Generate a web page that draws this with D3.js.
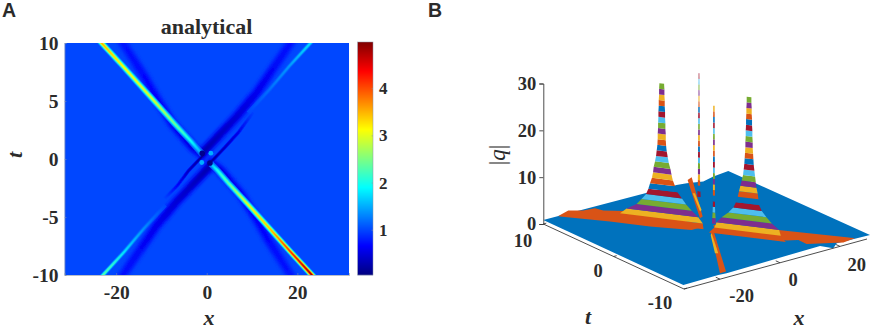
<!DOCTYPE html>
<html><head><meta charset="utf-8">
<script src="https://cdn.jsdelivr.net/npm/d3@7"></script>
<style>
html,body{margin:0;padding:0;background:#fff}
svg{display:block}
text{font-family:"Liberation Serif",serif;fill:#2b2b2b}
</style></head><body>
<svg id="c" width="872" height="329"></svg>
<script>
// ---- Panel A data ----
const xTicksA=[-20,0,20], tTicksA=[-10,-5,0,5,10], cbTicks=[1,2,3,4];
const valueRange=[0.04,4.98];
const jetFractions=[0,0.125,0.375,0.625,0.875,1];
const jetColors=["#000080","#0000ff","#00ffff","#ffff00","#ff0000","#800000"];
const backgroundValue=1;
// ridges: [x, t, peak |q|]
const ridgeNW=[[-1.4,0.6,1.5],[-3.4,1.5,1.9],[-7,3,2.4],[-11.6,5,2.9],[-18.5,8,3.1],[-23.2,10,3.5]];
const ridgeSE=[[1.4,-0.6,1.7],[2.4,-1,2.0],[4.6,-2,2.3],[9.3,-4,3.0],[13.9,-6,3.4],[18.5,-8,4.1],[23.2,-10,4.8]];
const ridgeNE=[[9.5,4.1,1.02],[11.6,5,1.1],[13.9,6,1.2],[18.2,8,1.4],[22.9,10,1.75]];
const ridgeSW=[[-9.5,-4.1,1.03],[-11.6,-5,1.15],[-13.9,-6,1.35],[-18.2,-8,1.75],[-22.9,-10,2.3]];
// troughs: [x, t, lowest |q|]
const wideNW=[[-1,0.4,0.42],[-3,1,0.5],[-7.5,3,0.58],[-10.7,5,0.64],[-13.6,7,0.68],[-18.5,10,0.75]];
const wideSE=[[1,-0.4,0.42],[3,-1,0.5],[7.5,-3,0.58],[10.7,-5,0.64],[13.6,-7,0.68],[18.5,-10,0.75]];
const wideNE=[[-1,0.5,0.25],[6.6,3.65,0.44],[11,5.7,0.56],[18.5,10,0.72]];
const wideSW=[[1,-0.5,0.25],[-6.6,-3.65,0.44],[-11,-5.7,0.56],[-18.5,-10,0.72]];
const narrowNE=[[0.7,-0.35,0.15],[4,1,0.35],[7,2.3,0.55],[10,3.9,0.95]];
const narrowSW=[[-0.7,0.35,0.15],[-4,-1,0.35],[-6.5,-2.3,0.65],[-9,-3.3,0.95]];
const lightSpots=[[-1.1,-0.3,1.5],[0.9,0.5,1.5]];
const darkSpots=[[-1,0.5,0.1],[0.7,-0.35,0.1]];

// ---- Panel B data ----
const xTicksB=[-20,0,20], tTicksB=[-10,0,10], zTicksB=[0,10,20,30];
const bandColors=["#0072BD","#D95319","#EDB120","#7E2F8E","#77AC30","#4DBEEE","#A2142F"];
const levelStep=1.2;
const surfaceEdge=[[-32.3,9.88],[11.5,9.61],[14.4,9.4],[18.6,8.84],[23,9.28],[28.7,9.59],[29.35,-10.28],[18.6,-10.13],[15.6,-10.92],[13.9,-9.76],[-18.05,-10.11],[-20.55,-9.99],[-32.4,-10.08]];
const armLeft=[[-27.3,9.87],[-22.8,10.37],[-19.65,9.58],[-16.16,9.41],[-15.47,8.52],[-11.09,7.31],[-4.17,4.33],[-1.78,0.14],[-5.73,0.11],[-12.95,2.96],[-19.06,6.04],[-27.26,9.65]];
const armRight=[[1.07,-0.06],[12.42,-4.46],[23.41,-9.49],[24.7,-10.12],[20.29,-10.35],[12,-8.67],[12.08,-7.45],[9.32,-6.96],[2.24,-2.41],[-0.55,-0.99]];
const backRidge=[[16.1,10],[18.15,10.29],[2.62,2.11],[1.3,1.93]];
const backStrip=[[11.58,7.03],[5.43,3.46],[4.32,3.21],[11.1,7.15]];
const frontRidge=[[-2.5,-1.21],[-1.2,-1.03],[-17.43,-9.76],[-19.45,-9.76]];
const frontStrip=[[-3.05,-1.59],[-10.73,-5.8],[-11.43,-5.63],[-4.02,-1.86]];
const peakLeftAt=[-7.2,3.74];
const peakLeftL=[6.7,6.4,5.4,3.85,3.1,2.4,2.05,1.8,1.5,1.33,1.23,1.03,.87,.77,.67,.62,.62,.56,.56,.51,.51,.46,.46,.41,.41,.36];
const peakLeftR=[6.4,6.3,5.6,4.6,3.75,3.1,2.4,2.05,1.7,1.5,1.33,1.08,.92,.77,.67,.62,.62,.56,.56,.51,.51,.46,.46,.41,.41,.36];
const peakRightAt=[4.97,-3.48];
const peakRightL=[6.15,5.33,4.97,4.2,3.18,2.41,2,1.74,1.54,1.33,1.13,.92,.82,.72,.67,.62,.56,.56,.51,.51,.46,.46,.41,.41,.36,.36];
const peakRightR=[5.64,4.87,4.62,3.49,2.67,1.95,1.54,1.44,1.33,1.13,1.03,.92,.82,.72,.67,.62,.56,.56,.51,.51,.46,.46,.41,.41,.36,.36];
const spikeBackAt=[0.15,1.58], spikeBackFrom=5;
const spikeBackHalf=[.26,.22,.19,.17,.16,.16,.15,.15,.14,.14,.13,.13,.12,.12,.12,.11,.11,.1,.1,.09,.09,.08,.07];
const spikeFrontAt=[-1.25,-1.14], spikeFrontFrom=2;
const spikeFrontHalf=[.3,.26,.2,.17,.16,.16,.15,.15,.15,.14,.14,.14,.13,.13,.13,.13,.12,.12,.12,.12,.11,.11];

const svg=d3.select("#c");
const defs=svg.append("defs");
function blur(id,s){defs.append("filter").attr("id",id)
  .attr("filterUnits","userSpaceOnUse").attr("x",0).attr("y",0).attr("width",872).attr("height",329)
  .append("feGaussianBlur").attr("stdDeviation",s);}
blur("b1",0.75);blur("b2",1.5);blur("b3",0.4);

// ---------- Panel A ----------
const xA=d3.scaleLinear().domain([-31.4,31.4]).range([64.5,349]);
const tA=d3.scaleLinear().domain([-10,10]).range([275,43]);
const span=valueRange[1]-valueRange[0];
const jet=d3.scaleLinear().domain(jetFractions.map(f=>valueRange[0]+f*span)).range(jetColors).clamp(true);
defs.append("clipPath").attr("id","plotA").append("rect")
  .attr("x",xA.range()[0]).attr("y",tA.range()[1]).attr("width",xA.range()[1]-xA.range()[0]).attr("height",tA.range()[0]-tA.range()[1]);
const plotA=svg.append("g").attr("clip-path","url(#plotA)");
plotA.append("rect").attr("x",xA.range()[0]).attr("y",tA.range()[1]).attr("width",xA.range()[1]-xA.range()[0]).attr("height",tA.range()[0]-tA.range()[1]).attr("fill",jet(backgroundValue));
const lineA=d3.line().x(d=>xA(d[0])).y(d=>tA(d[1]));
let gid=0;
function arm(parent,pts,layers){
  const x0=xA(pts[0][0]),y0=tA(pts[0][1]),x1=xA(pts[pts.length-1][0]),y1=tA(pts[pts.length-1][1]);
  const len2=(x1-x0)**2+(y1-y0)**2;
  layers.forEach(([f,w])=>{
    const id="g"+(gid++);
    const g=defs.append("linearGradient").attr("id",id).attr("gradientUnits","userSpaceOnUse")
      .attr("x1",x0).attr("y1",y0).attr("x2",x1).attr("y2",y1);
    pts.forEach(p=>{
      const o=((xA(p[0])-x0)*(x1-x0)+(tA(p[1])-y0)*(y1-y0))/len2;
      g.append("stop").attr("offset",o).attr("stop-color",jet(backgroundValue+(p[2]-backgroundValue)*f));
    });
    parent.append("path").attr("d",lineA(pts)).attr("fill","none").attr("stroke","url(#"+id+")")
      .attr("stroke-width",w).attr("stroke-linecap","square");
  });
}
const troughG=plotA.append("g").attr("filter","url(#b2)");
[wideNW,wideSE,wideNE,wideSW].forEach(a=>arm(troughG,a,[[.4,11],[.7,8],[.9,6],[1,4]]));
const narrowG=plotA.append("g").attr("filter","url(#b1)");
[narrowNE,narrowSW].forEach(a=>arm(narrowG,a,[[.6,3.4],[1,1.8]]));
const ridgeG=plotA.append("g").attr("filter","url(#b1)");
[ridgeNW,ridgeSE].forEach(a=>arm(ridgeG,a,[[.15,6.5],[.35,5],[.55,3.8],[.8,2.7],[1,1.5]]));
[ridgeNE,ridgeSW].forEach(a=>arm(ridgeG,a,[[.2,4.5],[.5,3.2],[.8,2.2],[1,1.3]]));
ridgeG.selectAll("circle.l").data(lightSpots).join("circle").attr("cx",d=>xA(d[0])).attr("cy",d=>tA(d[1])).attr("r",2.4).attr("fill",d=>jet(d[2]));
ridgeG.selectAll("circle.d").data(darkSpots).join("circle").attr("cx",d=>xA(d[0])).attr("cy",d=>tA(d[1])).attr("r",2.8).attr("fill",d=>jet(d[2]));

const fmt=d=>String(d);
const axisStyle=(g,size)=>{g.selectAll("text").attr("font-size",size).attr("font-weight","bold");g.select(".domain").attr("stroke","#8a94a6").attr("stroke-width",0.6);g.selectAll(".tick line").attr("stroke","#8a94a6").attr("stroke-width",0.5);};
const axXA=svg.append("g").attr("transform","translate(0,275)").call(d3.axisBottom(xA).tickValues(xTicksA).tickSize(-2).tickPadding(10).tickFormat(fmt));
axisStyle(axXA,19.5);
const axTA=svg.append("g").attr("transform","translate(64.5,0)").call(d3.axisLeft(tA).tickValues(tTicksA).tickSize(-2).tickPadding(6).tickFormat(fmt));
axisStyle(axTA,19.5);
svg.append("text").attr("x",206.5).attr("y",34).attr("text-anchor","middle").attr("font-size",22).attr("font-weight","bold").text("analytical");
svg.append("text").attr("x",209).attr("y",324.5).attr("text-anchor","middle").attr("font-size",22).attr("font-weight","bold").attr("font-style","italic").text("x");
svg.append("text").attr("transform","translate(22,155) rotate(-90)").attr("text-anchor","middle").attr("font-size",22).attr("font-weight","bold").attr("font-style","italic").text("t");
svg.append("text").attr("x",2).attr("y",17).attr("style","font-family:'Liberation Sans',sans-serif").attr("font-size",19.5).attr("font-weight","bold").attr("fill","#1a1a1a").text("A");
svg.append("text").attr("x",428).attr("y",17).attr("style","font-family:'Liberation Sans',sans-serif").attr("font-size",19.5).attr("font-weight","bold").attr("fill","#1a1a1a").text("B");

// colour bar
const cbY=d3.scaleLinear().domain(valueRange).range([275,42]);
const cbX=[357.7,373];
const cbSteps=d3.range(0,233);
svg.append("g").selectAll("rect").data(cbSteps).join("rect")
  .attr("x",cbX[0]).attr("width",cbX[1]-cbX[0]).attr("y",d=>42+d).attr("height",1.2)
  .attr("fill",d=>jet(cbY.invert(42+d+0.5)));
svg.append("rect").attr("x",cbX[0]).attr("y",42).attr("width",cbX[1]-cbX[0]).attr("height",233).attr("fill","none").attr("stroke","#8a94a6").attr("stroke-width",0.5);
const axCb=svg.append("g").attr("transform",`translate(${cbX[1]},0)`).call(d3.axisRight(cbY).tickValues(cbTicks).tickSize(-1.5).tickPadding(6).tickFormat(fmt));
axisStyle(axCb,17);axCb.select(".domain").remove();

// ---------- Panel B ----------
const origin=[684,289];
const xToPx=d3.scaleLinear().domain([-32,29]).range([0,183]);
const xToPy=d3.scaleLinear().domain([-32,29]).range([0,-50]);
const tToPx=d3.scaleLinear().domain([-10,10]).range([0,-140.7]);
const tToPy=d3.scaleLinear().domain([-10,10]).range([0,-65]);
const zToPy=d3.scaleLinear().domain([0,30]).range([0,-140.5]);
const proj=(x,t,z)=>[origin[0]+xToPx(x)+tToPx(t),origin[1]+xToPy(x)+tToPy(t)+zToPy(z)];
const SURF=1, RIDGE_SLOPE=-0.5;
const poly=d3.line();
const floorPoly=(pts)=>poly(pts.map(p=>proj(p[0],p[1],SURF)))+"Z";
const B=svg.append("g").attr("filter","url(#b3)");
B.append("path").attr("d",floorPoly(surfaceEdge)).attr("fill",bandColors[0]);
B.append("path").attr("d",floorPoly(armLeft)).attr("fill",bandColors[1]);
B.append("path").attr("d",floorPoly(armRight)).attr("fill",bandColors[1]);
B.append("path").attr("d",floorPoly(backRidge)).attr("fill",bandColors[1]);
B.append("path").attr("d",floorPoly(backStrip)).attr("fill",bandColors[2]);
const bandColor=k=>bandColors[(k+1)%bandColors.length];
function stack(at,left,right,from,opacityTop){
  const n=left.length-1;
  d3.range(n).forEach(i=>{
    const k=i+from;
    const P=(j,dx,side)=>proj(at[0]+side*dx,at[1]+side*dx*RIDGE_SLOPE,(j+from)*levelStep);
    const pts=[P(i,left[i],-1),P(i+1,left[i+1],-1),P(i+1,right[i+1],1),P(i,right[i],1)];
    B.append("path").attr("d",poly(pts)+"Z").attr("fill",bandColor(k))
      .attr("opacity",opacityTop&&i>n*0.7?0.75:1);
  });
}
stack(spikeBackAt,spikeBackHalf,spikeBackHalf,spikeBackFrom,true);
stack(peakLeftAt,peakLeftL,peakLeftR,0,false);
stack(peakRightAt,peakRightL,peakRightR,0,false);
B.append("path").attr("d",floorPoly(frontRidge)).attr("fill",bandColors[1]);
B.append("path").attr("d",floorPoly(frontStrip)).attr("fill",bandColors[2]);
stack(spikeFrontAt,spikeFrontHalf,spikeFrontHalf,spikeFrontFrom,false);

// 3-D axes
const axisColor="#3a3a3a";
const axB=svg.append("g").attr("fill","none").attr("stroke",axisColor).attr("stroke-width",0.9);
const seg=(a,b)=>axB.append("line").attr("x1",a[0]).attr("y1",a[1]).attr("x2",b[0]).attr("y2",b[1]);
seg(proj(-32,10,0),proj(-32,-10,0));
seg(proj(-32,-10,0),proj(29,-10,0));
xTicksB.forEach(v=>seg(proj(v,-10,0),proj(v,-9.4,0)));
tTicksB.forEach(v=>seg(proj(-32,v,0),proj(-31,v,0)));
const zAxisY=d3.scaleLinear().domain([0,30]).range([proj(-32,10,0)[1],proj(-32,10,30)[1]]);
const axZ=svg.append("g").attr("transform",`translate(${proj(-32,10,0)[0]},0)`)
  .call(d3.axisLeft(zAxisY).tickValues(zTicksB).tickSize(4).tickPadding(3).tickFormat(fmt));
axZ.selectAll("text").attr("font-size",18.5).attr("font-weight","bold");
axZ.select(".domain").attr("stroke",axisColor).attr("stroke-width",0.9);
axZ.selectAll(".tick line").attr("stroke",axisColor).attr("stroke-width",0.9);
const tickFont=(sel)=>sel.attr("font-size",18.5).attr("font-weight","bold").attr("text-anchor","middle").attr("dominant-baseline","middle");
const xLabelX=d3.scaleLinear().domain([-20,0,20]).range([741.7,793,856.7]);
const xLabelY=d3.scaleLinear().domain([-20,0,20]).range([298,282,267]);
const tLabelX=d3.scaleLinear().domain([-10,0,10]).range([660,598,523]);
const tLabelY=d3.scaleLinear().domain([-10,0,10]).range([305,273,243]);
svg.append("g").selectAll("text").data(xTicksB).join("text").call(tickFont)
  .attr("x",d=>xLabelX(d)).attr("y",d=>xLabelY(d)).text(fmt);
svg.append("g").selectAll("text").data(tTicksB).join("text").call(tickFont)
  .attr("x",d=>tLabelX(d)).attr("y",d=>tLabelY(d)).text(fmt);
svg.append("text").attr("x",588).attr("y",324).attr("text-anchor","middle").attr("font-size",22).attr("font-weight","bold").attr("font-style","italic").text("t");
svg.append("text").attr("x",799).attr("y",324.5).attr("text-anchor","middle").attr("font-size",22).attr("font-weight","bold").attr("font-style","italic").text("x");
const qLabel=svg.append("text").attr("transform","translate(505,155) rotate(-90)").attr("text-anchor","middle").attr("font-size",23);
qLabel.append("tspan").text("|");qLabel.append("tspan").attr("font-style","italic").text("q");qLabel.append("tspan").text("|");
</script>
</body></html>
